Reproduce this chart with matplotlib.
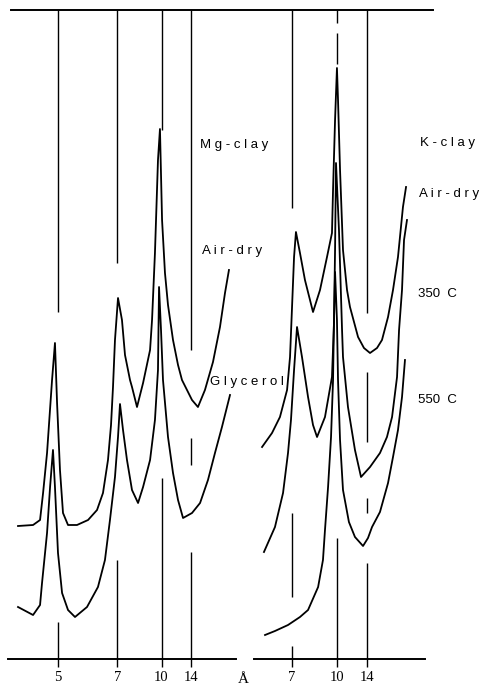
import numpy as np
import matplotlib
matplotlib.use("Agg")
import matplotlib.pyplot as plt
from matplotlib.lines import Line2D

W, H = 489, 686
LAMBDA = 1.5406  # Cu K-alpha, Angstrom

SANS = ['Liberation Sans', 'DejaVu Sans']
SERIF = ['Liberation Serif', 'DejaVu Serif']

# d-spacings marked under each panel
mg_d_ticks = [5, 7, 10, 14]
k_d_ticks = [7, 10, 14]

# Mg-clay traces, 2-theta (deg) vs intensity (arb.)
mg_air_tt = [21.15, 19.86, 19.26, 19.00, 18.66, 18.23, 17.98, 17.80, 17.55, 17.29,
             16.86, 16.09, 15.14, 14.37, 13.86, 13.43, 13.17, 13.00, 12.83, 12.57,
             12.23, 11.97, 11.54, 11.37, 10.94, 10.42, 9.82, 9.65, 9.40, 9.14,
             8.97, 8.79, 8.54, 8.28, 7.85, 7.42, 7.08, 6.65, 6.22, 5.71,
             5.11, 4.42, 3.82, 3.39, 3.05]
mg_air_i = [133, 134, 139, 166, 206, 279, 316, 256, 189, 146,
            134, 134, 139, 149, 166, 199, 234, 272, 319, 361,
            339, 304, 279, 272, 252, 276, 309, 339, 406, 499,
            530, 439, 386, 354, 319, 294, 279, 269, 259, 252,
            269, 297, 332, 366, 389]

mg_gly_tt = [21.15, 19.86, 19.26, 19.09, 18.66, 18.40, 18.15, 17.98, 17.72, 17.37,
             16.86, 16.26, 15.23, 14.29, 13.69, 13.26, 12.83, 12.57, 12.40, 12.14,
             11.80, 11.37, 10.85, 10.42, 9.82, 9.40, 9.14, 9.05, 8.88, 8.71,
             8.28, 7.85, 7.42, 6.99, 6.22, 5.53, 4.85, 4.25, 3.65, 2.96]
mg_gly_i = [52, 44, 54, 76, 126, 172, 209, 172, 106, 66,
            49, 42, 52, 72, 99, 139, 182, 222, 255, 229,
            199, 169, 156, 172, 199, 239, 289, 372, 329, 279,
            222, 186, 159, 141, 146, 156, 179, 206, 232, 264]

# K-clay traces
k_air_tt = [15.16, 14.32, 13.65, 13.05, 12.80, 12.63, 12.46, 12.30, 11.96, 11.54,
            10.86, 10.27, 9.68, 9.26, 9.17, 9.00, 8.84, 8.75, 8.58, 8.33,
            7.99, 7.74, 7.06, 6.56, 6.05, 5.46, 5.04, 4.53, 4.11, 3.69,
            3.27, 3.01]
k_air_i = [212, 226, 242, 269, 302, 352, 402, 427, 406, 379,
           347, 369, 402, 426, 469, 539, 591, 559, 489, 409,
           369, 352, 322, 311, 306, 311, 319, 342, 369, 402,
           452, 472]

k_350_tt = [15.00, 14.07, 13.39, 12.97, 12.72, 12.46, 12.21, 11.79, 11.28, 10.86,
            10.52, 9.85, 9.26, 9.09, 9.00, 8.92, 8.67, 8.41, 8.33, 7.91,
            7.32, 6.81, 6.05, 5.21, 4.62, 4.19, 3.77, 3.60, 3.35, 3.18,
            2.93]
k_350_i = [107, 132, 166, 206, 239, 289, 332, 302, 262, 234,
           222, 242, 282, 336, 409, 496, 429, 329, 302, 252,
           209, 182, 192, 206, 222, 242, 282, 329, 369, 419,
           439]

k_550_tt = [14.91, 14.07, 12.97, 11.96, 11.28, 10.43, 10.02, 9.85, 9.59, 9.34,
            9.17, 9.09, 9.00, 8.84, 8.75, 8.58, 8.33, 7.83, 7.32, 6.64,
            6.22, 5.88, 5.21, 4.53, 4.11, 3.69, 3.35, 3.10]
k_550_i = [24, 28, 34, 42, 49, 72, 99, 129, 172, 222,
           279, 339, 387, 339, 279, 219, 169, 137, 122, 113,
           121, 132, 147, 176, 202, 229, 262, 299]

# broken guide lines at each d-spacing: (low, high) intensity
mg_guides = {5: [(347, 649), (0, 37)],
             7: [(396, 649), (0, 99)],
             10: [(529, 649), (0, 181)],
             14: [(309, 649), (194, 221), (0, 107)]}
k_guides = {7: [(451, 649), (62, 146), (0, 13)],
            10: [(636, 649), (595, 626), (0, 121)],
            14: [(346, 649), (217, 287), (146, 161), (0, 96)]}


def two_theta(d):
    return 2 * np.degrees(np.arcsin(LAMBDA / (2 * np.asarray(d, float))))


def fx(px):
    return px / W


def fy(py):
    return 1 - py / H


def setup(ax, xlim, ticks):
    ax.set_xlim(*xlim)
    ax.set_ylim(0, 649)
    for s in ['top', 'left', 'right']:
        ax.spines[s].set_visible(False)
    ax.spines['bottom'].set_linewidth(1.4)
    ax.set_yticks([])
    ax.set_xticks(two_theta(ticks))
    ax.set_xticklabels([str(t) for t in ticks], fontfamily=SERIF, fontsize=10.5)
    ax.tick_params(axis='x', direction='out', length=6, width=1.0, pad=2.5)
    ax.patch.set_alpha(0)


fig = plt.figure(figsize=(W / 100, H / 100), dpi=100)

ax1 = fig.add_axes([fx(8), fy(659), (236 - 8) / W, 649 / H])
setup(ax1, (22.01, 2.445), mg_d_ticks)
ax2 = fig.add_axes([fx(254), fy(659), (425 - 254) / W, 649 / H])
setup(ax2, (15.84, 1.41), k_d_ticks)

for ax, guides in [(ax1, mg_guides), (ax2, k_guides)]:
    for d, segs in guides.items():
        for lo, hi in segs:
            ax.vlines(two_theta(d), lo, hi, color='k', lw=1.0, clip_on=False)

for tt, inten in [(mg_air_tt, mg_air_i), (mg_gly_tt, mg_gly_i)]:
    ax1.plot(tt, inten, color='k', lw=1.3, clip_on=False)
for tt, inten in [(k_air_tt, k_air_i), (k_350_tt, k_350_i), (k_550_tt, k_550_i)]:
    ax2.plot(tt, inten, color='k', lw=1.3, clip_on=False)

# top frame line across both panels
fig.add_artist(Line2D([fx(11), fx(433)], [fy(10), fy(10)], transform=fig.transFigure,
                      color='k', lw=1.4))

labels = [("M g - c l a y", 200, 148), ("A i r - d r y", 202, 254), ("G l y c e r o l", 210, 385),
          ("K - c l a y", 420, 146), ("A i r - d r y", 419, 197), ("350  C", 418, 297),
          ("550  C", 418, 403)]
for txt, px, py in labels:
    fig.text(fx(px), fy(py), txt, family=SANS, fontsize=9.5, va='baseline', ha='left')

fig.text(fx(243), fy(683), "Å", family=SERIF, fontsize=11, va='baseline', ha='center')

fig.savefig("out.png", dpi=100)
